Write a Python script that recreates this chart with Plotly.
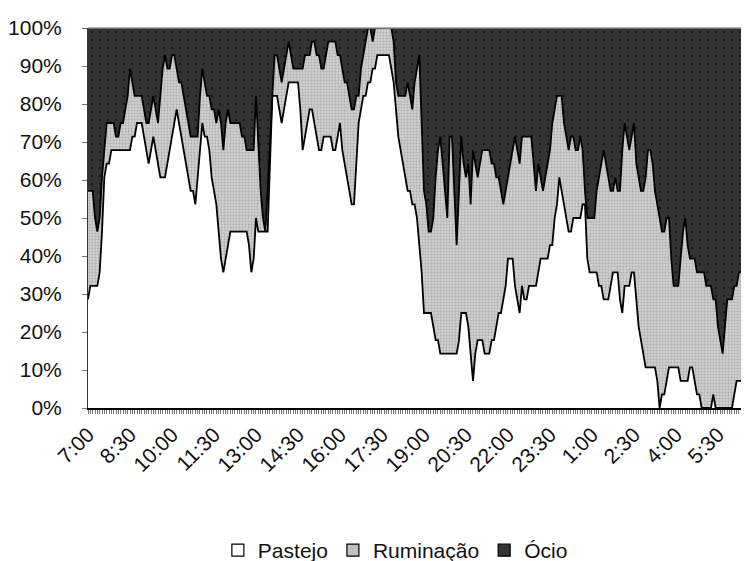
import plotly.graph_objects as go

# Number of animals observed in each activity, every 5 minutes (7:00 -> 6:55)
pastejo = [
    8, 9, 9, 9, 9, 10, 13, 17, 18, 18,
    19, 19, 19, 19, 19, 19, 19, 19, 19, 20,
    20, 21, 21, 21, 20, 19, 18, 19, 20, 19,
    18, 17, 17, 17, 18, 19, 20, 21, 22, 21,
    20, 19, 18, 17, 16, 16, 15, 17, 19, 21,
    20, 20, 19, 17, 16, 15, 13, 11, 10, 11,
    12, 13, 13, 13, 13, 13, 13, 13, 13, 12,
    10, 11, 14, 13, 13, 13, 13, 13, 18, 23,
    23, 23, 22, 21, 22, 23, 24, 24, 24, 24,
    24, 22, 19, 20, 21, 22, 22, 21, 20, 19,
    19, 20, 20, 20, 20, 19, 19, 20, 21, 19,
    18, 17, 16, 15, 15, 18, 21, 22, 23, 23,
    24, 24, 25, 25, 26, 26, 26, 26, 26, 26,
    25, 24, 22, 20, 19, 18, 17, 16, 16, 15,
    15, 14, 12, 10, 7, 7, 7, 7, 6, 5,
    5, 4, 4, 4, 4, 4, 4, 4, 4, 5,
    7, 7, 7, 6, 4, 2, 4, 5, 5, 5,
    4, 4, 4, 5, 5, 6, 7, 7, 8, 9,
    11, 11, 11, 9, 8, 7, 9, 8, 8, 9,
    9, 9, 9, 10, 11, 11, 11, 11, 12, 12,
    14, 15, 17, 16, 15, 14, 13, 13, 14, 14,
    14, 14, 15, 15, 11, 10, 10, 10, 10, 9,
    9, 8, 8, 8, 9, 10, 10, 10, 8, 7,
    9, 9, 9, 10, 10, 8, 6, 5, 4, 3,
    3, 3, 3, 3, 2, 0, 1, 1, 2, 3,
    3, 3, 3, 3, 2, 2, 2, 2, 3, 3,
    2, 1, 1, 0, 0, 0, 0, 0, 1, 0,
    0, 0, 0, 0, 0, 0, 0, 1, 2, 2,
    2, 2, 2, 1, 0, 0, 0, 0,
]

ruminacao = [
    8, 7, 7, 5, 4, 4, 4, 2, 3, 3,
    2, 2, 1, 1, 2, 2, 3, 4, 6, 4,
    3, 2, 2, 2, 2, 2, 3, 3, 3, 3,
    3, 6, 8, 9, 7, 6, 6, 5, 3, 3,
    4, 4, 4, 4, 4, 4, 5, 3, 4, 4,
    4, 3, 4, 5, 6, 6, 9, 10, 9, 10,
    10, 8, 8, 8, 8, 8, 7, 7, 6, 7,
    9, 8, 9, 6, 3, 1, 0, 3, 2, 0,
    3, 3, 3, 3, 3, 3, 3, 2, 1, 1,
    1, 3, 6, 6, 5, 4, 5, 6, 6, 7,
    6, 5, 6, 7, 7, 8, 8, 6, 5, 6,
    6, 7, 7, 7, 7, 5, 2, 3, 3, 4,
    4, 4, 2, 3, 2, 2, 2, 2, 2, 2,
    3, 3, 2, 3, 4, 5, 6, 8, 7, 7,
    9, 11, 14, 11, 9, 8, 6, 6, 8, 12,
    14, 16, 14, 12, 10, 16, 16, 12, 8, 11,
    13, 11, 10, 12, 11, 17, 14, 12, 13, 14,
    15, 15, 15, 13, 13, 11, 10, 9, 7, 7,
    6, 7, 8, 11, 11, 11, 11, 12, 12, 11,
    11, 9, 7, 8, 6, 5, 6, 7, 7, 9,
    8, 8, 6, 7, 6, 6, 6, 7, 6, 5,
    5, 6, 4, 1, 3, 4, 4, 4, 6, 8,
    9, 11, 10, 9, 7, 6, 7, 6, 8, 12,
    12, 11, 10, 10, 11, 10, 11, 11, 12, 14,
    16, 16, 15, 13, 13, 14, 12, 12, 12, 11,
    8, 6, 6, 6, 9, 11, 12, 10, 8, 8,
    9, 9, 9, 10, 10, 9, 9, 9, 7, 8,
    6, 5, 4, 6, 8, 8, 8, 8, 7, 8,
    8, 9, 8, 8, 9, 9, 9, 9,
]

ocio = [
    12, 12, 12, 14, 15, 14, 11, 9, 7, 7,
    7, 7, 8, 8, 7, 7, 6, 5, 3, 4,
    5, 5, 5, 5, 6, 7, 7, 6, 5, 6,
    7, 5, 3, 2, 3, 3, 2, 2, 3, 4,
    4, 5, 6, 7, 8, 8, 8, 8, 5, 3,
    4, 5, 5, 6, 6, 7, 6, 7, 9, 7,
    6, 7, 7, 7, 7, 7, 8, 8, 9, 9,
    9, 9, 5, 9, 12, 14, 15, 12, 8, 5,
    2, 2, 3, 4, 3, 2, 1, 2, 3, 3,
    3, 3, 3, 2, 2, 2, 1, 1, 2, 2,
    3, 3, 2, 1, 1, 1, 1, 2, 2, 3,
    4, 4, 5, 6, 6, 5, 5, 3, 2, 1,
    0, 0, 1, 0, 0, 0, 0, 0, 0, 0,
    0, 1, 4, 5, 5, 5, 5, 4, 5, 6,
    4, 3, 2, 7, 12, 13, 15, 15, 14, 11,
    9, 8, 10, 12, 14, 8, 8, 12, 16, 12,
    8, 10, 11, 10, 13, 9, 10, 11, 10, 9,
    9, 9, 9, 10, 10, 11, 11, 12, 13, 12,
    11, 10, 9, 8, 9, 10, 8, 8, 8, 8,
    8, 10, 12, 10, 11, 12, 11, 10, 9, 7,
    6, 5, 5, 5, 7, 8, 9, 8, 8, 9,
    9, 8, 9, 12, 14, 14, 14, 14, 12, 11,
    10, 9, 10, 11, 12, 12, 11, 12, 12, 9,
    7, 8, 9, 8, 7, 10, 11, 12, 12, 11,
    9, 9, 10, 12, 13, 14, 15, 15, 14, 14,
    17, 19, 19, 19, 17, 15, 14, 16, 17, 17,
    17, 18, 18, 18, 18, 19, 19, 19, 20, 20,
    22, 23, 24, 22, 20, 20, 20, 19, 19, 18,
    18, 17, 18, 19, 19, 19, 19, 19,
]

tick_labels = ["7:00", "8:30", "10:00", "11:30", "13:00", "14:30", "16:00", "17:30",
               "19:00", "20:30", "22:00", "23:30", "1:00", "2:30", "4:00", "5:30"]
y_tick_labels = ["0%", "10%", "20%", "30%", "40%", "50%", "60%", "70%", "80%", "90%", "100%"]
series_names = ["Pastejo", "Ruminação", "Ócio"]

LABEL_EVERY = 18  # one label every 90 minutes (18 x 5 min)
n = len(pastejo)
x = list(range(n))
tickvals = x
ticktext = [tick_labels[i // LABEL_EVERY] if i % LABEL_EVERY == 0 and i // LABEL_EVERY < len(tick_labels) else ""
            for i in x]

FONT = "Liberation Sans, Arial, sans-serif"
FS = 21
line = dict(color="#000000", width=1.8)

fig = go.Figure()
fig.add_trace(go.Scatter(
    x=x, y=pastejo, name=series_names[0], stackgroup="a", groupnorm="percent",
    mode="lines", line=line, fillcolor="#ffffff", showlegend=False, hoverinfo="skip"))
fig.add_trace(go.Scatter(
    x=x, y=ruminacao, name=series_names[1], stackgroup="a",
    mode="lines", line=line, fillcolor="#c4c4c4",
    fillpattern=dict(shape=".", size=3, solidity=0.35, fgcolor="#8a8a8a", bgcolor="#cfcfcf"),
    showlegend=False, hoverinfo="skip"))
fig.add_trace(go.Scatter(
    x=x, y=ocio, name=series_names[2], stackgroup="a",
    mode="lines", line=line, fillcolor="#333333",
    fillpattern=dict(shape=".", size=8, solidity=0.08, fgcolor="#000000", bgcolor="#333333"),
    showlegend=False, hoverinfo="skip"))

# legend entries (square swatches)
for name, col in zip(series_names, ["#ffffff", "#c0c0c0", "#333333"]):
    fig.add_trace(go.Scatter(
        x=[None], y=[None], mode="markers", name=name,
        marker=dict(symbol="square", size=12, color=col, line=dict(color="#000000", width=1.2))))

# the page body adds an 8px offset, so the figure is 8px smaller than the window
fig.update_layout(
    width=741, height=553,
    margin=dict(l=80, r=0, t=20, b=153, autoexpand=False),
    paper_bgcolor="#ffffff", plot_bgcolor="#ffffff",
    font=dict(family=FONT, size=FS, color="#111111"),
    showlegend=True,
    legend=dict(orientation="h", traceorder="normal",
                x=0.465, xanchor="center", y=-0.375, yanchor="middle",
                font=dict(family=FONT, size=FS, color="#111111"),
                itemwidth=30, tracegroupgap=0, bgcolor="rgba(0,0,0,0)"),
    xaxis=dict(range=[0, 283.3], tickmode="array", tickvals=tickvals, ticktext=ticktext,
               tickangle=-45, ticks="outside", ticklen=4, tickwidth=1, tickcolor="#777777",
               showline=True, linecolor="#000000", linewidth=2, automargin=False,
               showgrid=False, zeroline=False, tickfont=dict(size=FS)),
    yaxis=dict(range=[0, 100], tickmode="array", tickvals=list(range(0, 101, 10)),
               ticktext=y_tick_labels, ticks="outside", ticklen=5, tickwidth=1, tickcolor="#777777",
               showline=True, linecolor="#333333", linewidth=1, automargin=False,
               showgrid=False, zeroline=False, tickfont=dict(size=FS),
               ticklabelstandoff=16),
)
fig.add_shape(type="line", xref="paper", yref="paper", x0=0, x1=1, y0=1, y1=1,
              line=dict(color="#9a9a9a", width=1.5), layer="above")

fig.write_html("out.html")
